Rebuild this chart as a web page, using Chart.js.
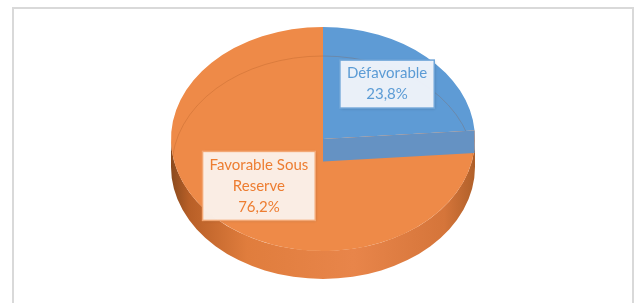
<!DOCTYPE html>
<html>
<head>
<meta charset="utf-8">
<script src="https://cdn.jsdelivr.net/npm/chart.js@4.4.0/dist/chart.umd.min.js"></script>
<style>
  html, body { margin: 0; padding: 0; background: #fff; }
  #wrap { width: 635px; height: 303px; }
</style>
</head>
<body>
<div id="wrap"><canvas id="pie" width="635" height="303"></canvas></div>
<script>
// donnees du graphique
const categories = ['Défavorable', 'Favorable Sous Reserve'];
const shares = [23.8, 76.2];
const topColors = ['#5e9bd5', '#ee8a48'];
const sideStops = [
  [[0, '#3f6f9e'], [0.5, '#5b8cc0'], [1, '#3f6f9e']],
  [[0, '#8a4a1e'], [0.06, '#b85f27'], [0.25, '#e07d3d'], [0.6, '#e8854a'], [0.9, '#d5753a'], [1, '#b0602a']]
];
const labelText = ['#5b9bd5', '#ed7d31'];
const labelFill = ['rgba(240,245,252,0.96)', 'rgba(253,242,235,0.96)'];
const labelBorder = ['#6fa5d8', '#f3a774'];

// geometrie de l'ellipse (vue 3D)
const cx = 323, cy = 139, rx = 152, ry = 112, depth = 28;

function pct(v) {
  return v.toFixed(1).replace('.', ',') + '%';
}

function wrapText(ctx, text, maxWidth) {
  let words = text.split(' ');
  let lines = [];
  let line = '';
  words.forEach(w => {
    let test = line ? line + ' ' + w : w;
    if (ctx.measureText(test).width > maxWidth && line) {
      lines.push(line);
      line = w;
    } else {
      line = test;
    }
  });
  if (line) lines.push(line);
  return lines;
}

const pie3d = {
  id: 'pie3d',
  beforeDraw(chart) {
    const ctx = chart.ctx;
    ctx.save();
    ctx.strokeStyle = '#d9d9d9';
    ctx.lineWidth = 2;
    ctx.strokeRect(13, 8, 620, 300);
    ctx.restore();
  },
  beforeDatasetsDraw(chart) {
    const ctx = chart.ctx;
    const arcs = chart.getDatasetMeta(0).data;

    // le flanc de la tarte
    arcs.forEach((arc, i) => {
      let a = Math.max(arc.startAngle, 0);
      let b = Math.min(arc.endAngle, Math.PI);
      if (b <= a) return;
      let g = ctx.createLinearGradient(cx - rx, 0, cx + rx, 0);
      sideStops[i].forEach(s => g.addColorStop(s[0], s[1]));
      ctx.save();
      ctx.fillStyle = g;
      ctx.beginPath();
      ctx.ellipse(cx, cy, rx, ry, 0, a, b);
      ctx.ellipse(cx, cy + depth, rx, ry, 0, b, a, true);
      ctx.closePath();
      ctx.fill();
      ctx.restore();
    });

    // aplatir le cercle en ellipse
    const arc0 = arcs[0];
    ctx.save();
    ctx.translate(cx, cy);
    ctx.scale(rx / arc0.outerRadius, ry / arc0.outerRadius);
    ctx.translate(-arc0.x, -arc0.y);
  },
  afterDatasetsDraw(chart) {
    const ctx = chart.ctx;
    ctx.restore();
    const arcs = chart.getDatasetMeta(0).data;

    // ligne du fond vue a travers
    ctx.save();
    ctx.strokeStyle = 'rgba(150,75,25,0.22)';
    ctx.lineWidth = 1;
    ctx.beginPath();
    ctx.ellipse(cx, cy + depth, rx - 1, ry - 1, 0, Math.PI, 2 * Math.PI);
    ctx.stroke();
    ctx.restore();

    // paroi coupee de la part bleue
    let e = arcs[0].endAngle;
    let ex = cx + rx * Math.cos(e);
    let ey = cy + ry * Math.sin(e);
    ctx.save();
    ctx.fillStyle = '#6592c3';
    ctx.beginPath();
    ctx.moveTo(cx, cy);
    ctx.lineTo(ex, ey);
    ctx.lineTo(ex, ey + depth * 0.8);
    ctx.lineTo(cx, cy + depth * 0.8);
    ctx.closePath();
    ctx.fill();
    ctx.restore();

    // etiquettes
    ctx.save();
    ctx.font = '15px Lato';
    ctx.textAlign = 'center';
    ctx.textBaseline = 'middle';
    arcs.forEach((arc, i) => {
      let mid = (arc.startAngle + arc.endAngle) / 2;
      let lx = cx + rx * 0.62 * Math.cos(mid);
      let ly = cy + ry * 0.62 * Math.sin(mid) - 4;
      let lines = wrapText(ctx, categories[i], 112);
      lines.push(pct(shares[i]));
      let w = Math.max(...lines.map(l => ctx.measureText(l).width)) + 14;
      let h = lines.length * 21 + 6;
      ctx.save();
      ctx.shadowColor = 'rgba(0,0,0,0.25)';
      ctx.shadowBlur = 3;
      ctx.shadowOffsetX = 1;
      ctx.shadowOffsetY = 1;
      ctx.fillStyle = labelFill[i];
      ctx.fillRect(lx - w / 2, ly - h / 2, w, h);
      ctx.restore();
      ctx.strokeStyle = labelBorder[i];
      ctx.lineWidth = 1.5;
      ctx.strokeRect(lx - w / 2, ly - h / 2, w, h);
      ctx.fillStyle = labelText[i];
      lines.forEach((l, k) => {
        ctx.fillText(l, lx, ly - h / 2 + 3 + 10.5 + k * 21);
      });
    });
    ctx.restore();
  }
};

new Chart(document.getElementById('pie'), {
  type: 'pie',
  data: {
    labels: categories,
    datasets: [{
      data: shares,
      backgroundColor: topColors,
      borderWidth: 0
    }]
  },
  options: {
    responsive: false,
    animation: false,
    events: [],
    layout: { padding: 5 },
    plugins: {
      legend: { display: false },
      tooltip: { enabled: false }
    }
  },
  plugins: [pie3d]
});
</script>
</body>
</html>
